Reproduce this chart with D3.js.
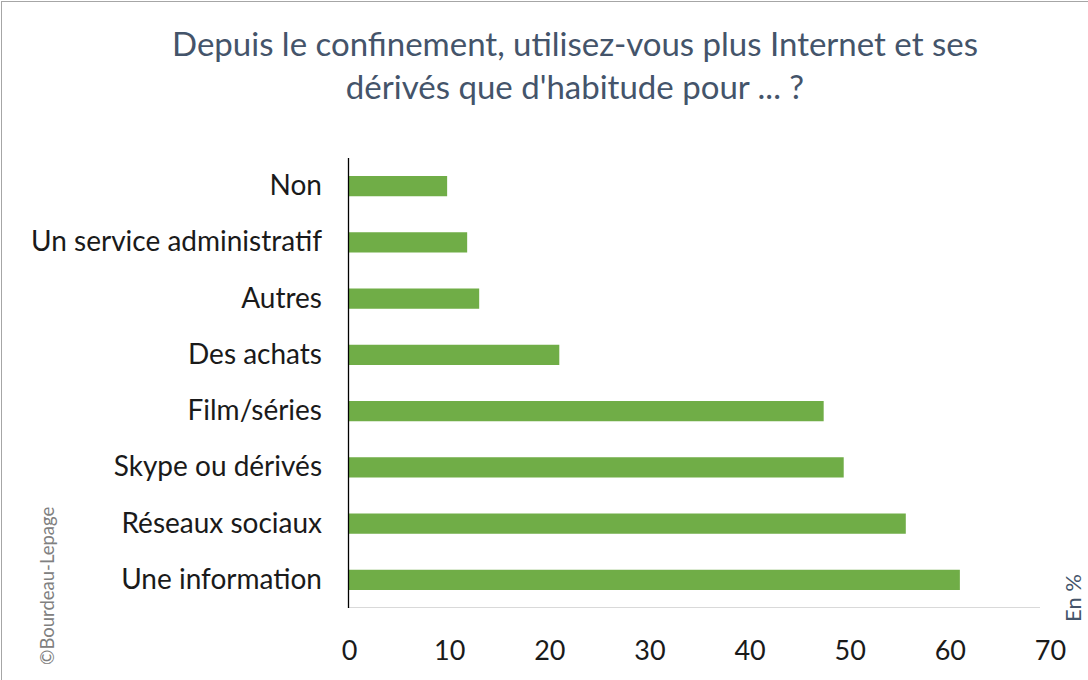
<!DOCTYPE html>
<html><head><meta charset="utf-8">
<script src="https://cdn.jsdelivr.net/npm/d3@7"></script>
<style>body{margin:0;background:#fff;}svg{display:block;font-family:Lato,"Open Sans",sans-serif;}</style>
</head><body>
<svg id="c" width="1088" height="680"></svg>
<script>
const categories = ["Non","Un service administratif","Autres","Des achats","Film/séries","Skype ou dérivés","Réseaux sociaux","Une information"];
const values = [9.8, 11.8, 13, 21, 47.4, 49.4, 55.6, 61];
const tickValues = [0,10,20,30,40,50,60,70];
const titleLines = ["Depuis le confinement, utilisez-vous plus Internet et ses","dérivés que d'habitude pour ... ?"];

const svg = d3.select("#c");
svg.append("rect").attr("x",1.5).attr("y",1.5).attr("width",1100).attr("height",700)
  .attr("fill","none").attr("stroke","#a6a6a6").attr("stroke-width",1);

const x = d3.scaleLinear().domain([0,70]).range([349,1050]);
const y = d3.scaleBand().domain(categories).range([158,608]).paddingInner(0.64).paddingOuter(0.32);

svg.append("line").attr("x1",x(0)).attr("x2",1040).attr("y1",607.5).attr("y2",607.5)
  .attr("stroke","#d9d9d9").attr("stroke-width",1);

svg.selectAll("rect.bar").data(categories).join("rect").attr("class","bar")
  .attr("x",x(0)).attr("y",d=>y(d)).attr("width",(d,i)=>x(values[i])-x(0)).attr("height",y.bandwidth())
  .attr("fill","#70ad47");

svg.append("line").attr("x1",348.5).attr("x2",348.5).attr("y1",158).attr("y2",608)
  .attr("stroke","#000").attr("stroke-width",1.3);

const xa = svg.append("g").attr("transform","translate(0,608)")
  .call(d3.axisBottom(x).tickValues(tickValues).tickSize(0).tickPadding(33));
xa.select(".domain").remove();
xa.selectAll("text").attr("font-size",27).attr("fill","#1a1a1a").attr("font-family","Lato,sans-serif");

const ya = svg.append("g").attr("transform","translate(349,0)")
  .call(d3.axisLeft(y).tickSize(0).tickPadding(27));
ya.select(".domain").remove();
ya.selectAll("text").attr("font-size",28).attr("fill","#1a1a1a").attr("font-family","Lato,sans-serif");

svg.selectAll("text.title").data(titleLines).join("text").attr("class","title")
  .attr("x",575).attr("y",(d,i)=>56+i*43).attr("text-anchor","middle")
  .attr("font-size",33).attr("fill","#44546a").text(d=>d);

svg.append("text").attr("transform","translate(54,665) rotate(-90)")
  .attr("font-size",18.5).attr("fill","#808080").text("©Bourdeau-Lepage");

svg.append("text").attr("transform","translate(1081,622) rotate(-90)")
  .attr("font-size",22).attr("fill","#44546a").text("En %");
</script>
</body></html>
